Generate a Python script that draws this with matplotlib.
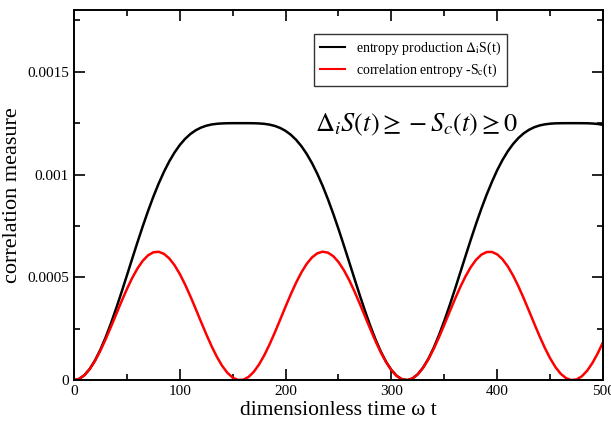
import matplotlib
matplotlib.use("Agg")
import matplotlib.pyplot as plt
from matplotlib.ticker import MultipleLocator, FixedLocator, FixedFormatter

plt.rcParams['font.family'] = ['Liberation Serif', 'DejaVu Serif']
plt.rcParams['mathtext.fontset'] = 'stix'

# time axis, step 5
t = list(range(0, 505, 5))

# values, in units of 1e-4
scale = 1e-4
entropy_production = [
    0.000, 0.062, 0.248, 0.552, 0.967, 1.484, 2.088, 2.767, 3.503, 4.282,
    5.085, 5.897, 6.700, 7.480, 8.222, 8.917, 9.555, 10.128, 10.634, 11.069,
    11.435, 11.734, 11.971, 12.152, 12.284, 12.376, 12.436, 12.470, 12.488, 12.497,
    12.500, 12.500, 12.500, 12.500, 12.497, 12.487, 12.467, 12.428, 12.364, 12.265,
    12.125, 11.935, 11.688, 11.378, 11.001, 10.553, 10.036, 9.452, 8.804, 8.101,
    7.351, 6.566, 5.761, 4.950, 4.149, 3.376, 2.648, 1.980, 1.390, 0.890,
    0.493, 0.208, 0.043, 0.002, 0.085, 0.291, 0.615, 1.047, 1.579, 2.197,
    2.887, 3.632, 4.417, 5.222, 6.033, 6.833, 7.607, 8.341, 9.024, 9.646,
    10.218, 10.712, 11.135, 11.489, 11.778, 12.005, 12.177, 12.303, 12.389, 12.443,
    12.475, 12.492, 12.498, 12.500, 12.500, 12.500, 12.499, 12.496, 12.484, 12.461,
    12.419,
]
correlation_entropy = [
    0.000, 0.062, 0.247, 0.546, 0.948, 1.437, 1.993, 2.594, 3.216, 3.835,
    4.425, 4.964, 5.429, 5.803, 6.069, 6.219, 6.245, 6.146, 5.927, 5.597,
    5.168, 4.657, 4.085, 3.476, 2.852, 2.239, 1.661, 1.142, 0.701, 0.358,
    0.124, 0.011, 0.021, 0.156, 0.408, 0.769, 1.224, 1.755, 2.340, 2.956,
    3.580, 4.185, 4.748, 5.246, 5.660, 5.972, 6.171, 6.249, 6.202, 6.033,
    5.747, 5.357, 4.878, 4.329, 3.732, 3.111, 2.491, 1.895, 1.349, 0.874,
    0.488, 0.207, 0.043, 0.002, 0.085, 0.289, 0.607, 1.024, 1.526, 2.091,
    2.698, 3.321, 3.937, 4.520, 5.048, 5.499, 5.855, 6.103, 6.232, 6.237,
    6.118, 5.879, 5.531, 5.087, 4.565, 3.985, 3.371, 2.747, 2.138, 1.569,
    1.062, 0.636, 0.310, 0.097, 0.004, 0.035, 0.190, 0.462, 0.839, 1.308,
    1.850,
]

y_ticks = [0, 0.0005, 0.001, 0.0015]
y_ticklabels = ["0", "0.0005", "0.001", "0.0015"]

fig = plt.figure(figsize=(6.11, 4.21), dpi=100)
ax = fig.add_axes([0.121, 0.097, 0.866, 0.879])

ax.plot(t, [v * scale for v in entropy_production], color="black", lw=1.8,
        label=r"entropy production $\Delta_{\mathrm{i}}$S(t)")
ax.plot(t, [v * scale for v in correlation_entropy], color="red", lw=1.8,
        label=r"correlation entropy -S$_{\mathrm{c}}$(t)")

ax.set_xlim(0, 500)
ax.set_ylim(0, 0.0018)
ax.xaxis.set_major_locator(MultipleLocator(100))
ax.xaxis.set_minor_locator(MultipleLocator(50))
ax.yaxis.set_major_locator(FixedLocator(y_ticks))
ax.yaxis.set_major_formatter(FixedFormatter(y_ticklabels))
ax.yaxis.set_minor_locator(MultipleLocator(0.00025))
ax.tick_params(which="both", direction="in", top=True, right=True, labelsize=11, width=1.2)
ax.tick_params(which="major", length=8)
ax.tick_params(which="minor", length=4)
for s in ax.spines.values():
    s.set_linewidth(1.4)

ax.set_xlabel("dimensionless time ω t", fontsize=15.5, labelpad=2)
ax.set_ylabel("correlation measure", fontsize=16, labelpad=4)

leg = ax.legend(loc="upper left", bbox_to_anchor=(0.44, 0.955), fontsize=10,
                frameon=True, fancybox=False, edgecolor="black",
                handlelength=1.8, borderpad=0.45, labelspacing=0.35)
leg.get_frame().set_linewidth(1.0)
for line in leg.get_lines():
    line.set_linewidth(1.5)

ax.text(324, 0.00124, r"$\Delta_i S(t) \geq - S_c(t) \geq 0$", fontsize=19,
        ha="center", va="center")

fig.savefig("out.png", dpi=100)
